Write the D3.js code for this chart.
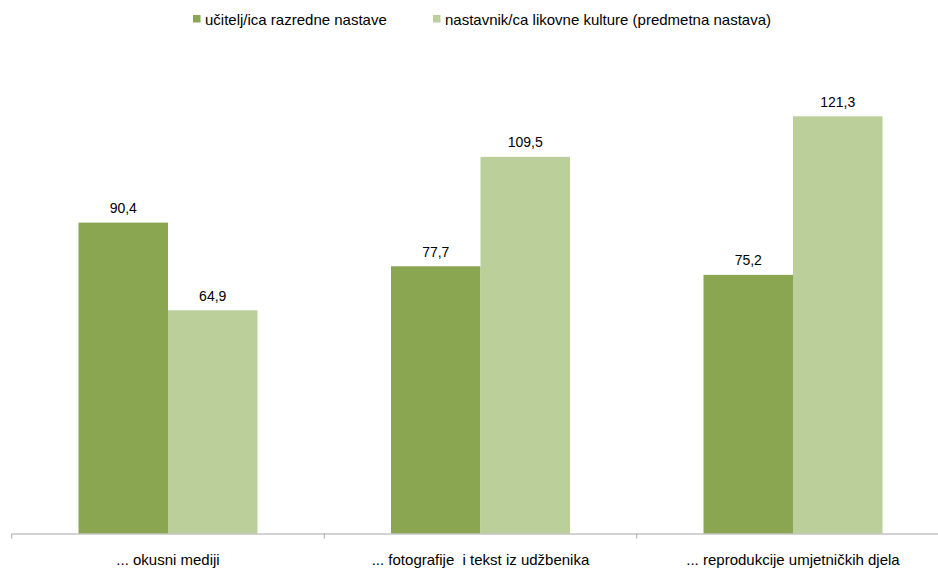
<!DOCTYPE html>
<html>
<head>
<meta charset="utf-8">
<script src="https://cdn.jsdelivr.net/npm/d3@7/dist/d3.min.js"></script>
<style>
  html, body { margin: 0; padding: 0; background: #fff; }
  svg { display: block; }
  text { font-family: "Liberation Sans", Arial, sans-serif; fill: #000; white-space: pre; }
</style>
</head>
<body>
<svg id="chart" width="938" height="569"></svg>
<script>
// Categories and series values
const categories = ["... okusni mediji", "... fotografije  i tekst iz udžbenika", "... reprodukcije umjetničkih djela"];
const seriesNames = ["učitelj/ica razredne nastave", "nastavnik/ca likovne kulture (predmetna nastava)"];
const seriesUcitelj = [90.4, 77.7, 75.2];
const seriesNastavnik = [64.9, 109.5, 121.3];
const seriesColors = ["#8aa650", "#bbcf9a"];

const seriesValues = [seriesUcitelj, seriesNastavnik];
const fmt = v => d3.format(".1f")(v).replace(".", ",");

const svg = d3.select("#chart");
const plot = { left: 11.75, right: 949.25, top: 52, bottom: 533.5 };

const x0 = d3.scaleBand().domain(categories).range([plot.left, plot.right]).paddingInner(0).paddingOuter(0);
const x1 = d3.scaleBand().domain(seriesNames).range([0, x0.bandwidth()]).paddingInner(0).paddingOuter(0.746);
const y = d3.scaleLinear().domain([0, 140]).range([plot.bottom, plot.top]);

// Bars
const groups = svg.append("g").selectAll("g")
  .data(categories)
  .join("g")
  .attr("transform", c => `translate(${x0(c)},0)`);

const cells = (c, i) => seriesNames.map((s, k) => ({ s, k, v: seriesValues[k][i] }));

groups.selectAll("rect")
  .data(cells)
  .join("rect")
  .attr("x", d => x1(d.s))
  .attr("width", x1.bandwidth())
  .attr("y", d => y(d.v))
  .attr("height", d => y(0) - y(d.v))
  .attr("fill", d => seriesColors[d.k]);

// Value labels
groups.selectAll("text.val")
  .data(cells)
  .join("text")
  .attr("class", "val")
  .attr("x", d => x1(d.s) + x1.bandwidth() / 2)
  .attr("y", d => y(d.v) - 9.5)
  .attr("text-anchor", "middle")
  .style("font-size", "14px")
  .text(d => fmt(d.v));

// Category axis
const axis = svg.append("g")
  .attr("transform", `translate(0,${plot.bottom})`)
  .call(d3.axisBottom(x0).tickSize(0).tickPadding(21));
axis.select(".domain").attr("stroke", "#a6a6a6").attr("stroke-width", 1);
axis.selectAll(".tick text")
  .style("font-size", "15px")
  .style("font-family", "Liberation Sans, Arial, sans-serif")
  .style("white-space", "pre")
  .attr("fill", "#000");

// Tick marks at category boundaries
const bounds = categories.map(c => x0(c)).concat([x0(categories[categories.length - 1]) + x0.bandwidth()]);
axis.selectAll("line.bound")
  .data(bounds)
  .join("line")
  .attr("class", "bound")
  .attr("x1", d => d).attr("x2", d => d)
  .attr("y1", 0).attr("y2", 5)
  .attr("stroke", "#a6a6a6");

// Legend
const legend = svg.append("g");
const legendX = [193, 433];
seriesNames.forEach((s, k) => {
  const g = legend.append("g").attr("transform", `translate(${legendX[k]},0)`);
  g.append("rect").attr("x", 0).attr("y", 15).attr("width", 7.5).attr("height", 7.5).attr("fill", seriesColors[k]);
  g.append("text").attr("x", 12).attr("y", 24.5).style("font-size", "15px").text(s);
});
</script>
</body>
</html>
